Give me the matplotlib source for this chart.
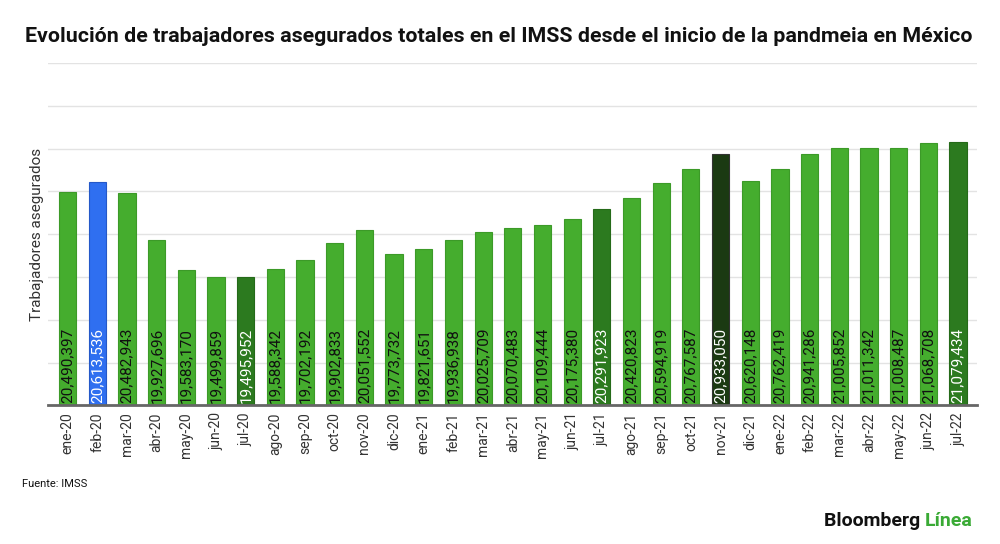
import matplotlib
matplotlib.use("Agg")
import matplotlib.pyplot as plt
from matplotlib.ticker import MultipleLocator

months = ["ene-20","feb-20","mar-20","abr-20","may-20","jun-20","jul-20","ago-20","sep-20","oct-20",
          "nov-20","dic-20","ene-21","feb-21","mar-21","abr-21","may-21","jun-21","jul-21","ago-21",
          "sep-21","oct-21","nov-21","dic-21","ene-22","feb-22","mar-22","abr-22","may-22","jun-22","jul-22"]
values = [20490397,20613536,20482943,19927696,19583170,19499859,19495952,19588342,19702192,19902833,
          20051552,19773732,19821651,19936938,20025709,20070483,20109444,20175380,20291923,20420823,
          20594919,20767587,20933050,20620148,20762419,20941286,21005852,21011342,21008487,21068708,21079434]

GREEN = "#45ad2e"
DARK = "#2c7a1f"
BLUE = "#2f6ff0"
BLACKG = "#1b3a12"
special = {"feb-20": BLUE, "jul-20": DARK, "jul-21": DARK, "nov-21": BLACKG, "jul-22": DARK}

colors = [special.get(m, GREEN) for m in months]
edges = []
for c in colors:
    if c == GREEN:
        edges.append("#3c9a28")
    elif c == BLUE:
        edges.append("#2458c8")
    elif c == BLACKG:
        edges.append("#333333")
    else:
        edges.append("#256a19")
txtcol = ["white" if c != GREEN else "#111111" for c in colors]

plt.rcParams['font.family'] = ['Roboto', 'DejaVu Sans']

fig = plt.figure(figsize=(10, 5.44), dpi=100)
ax = fig.add_axes([0.048, 0.255, 0.929, 0.629])

x = list(range(len(months)))
ax.bar(x, values, width=0.58, color=colors, edgecolor=edges, linewidth=0.8, zorder=3)

ymin, ymax = 18_000_000, 22_000_000
ax.set_ylim(ymin, ymax)
ax.set_xlim(-0.66, len(months) - 0.36)
ax.yaxis.set_major_locator(MultipleLocator(500_000))
ax.grid(axis="y", color="#e3e3e3", linewidth=1, zorder=0)
ax.set_yticklabels([])
ax.tick_params(axis="y", length=0)
ax.tick_params(axis="x", length=0, pad=5)
for s in ["top", "right", "left"]:
    ax.spines[s].set_visible(False)
ax.spines["bottom"].set_color("#666666")
ax.spines["bottom"].set_linewidth(2)
ax.spines["bottom"].set_zorder(4)

ax.set_xticks(x)
ax.set_xticklabels(months, rotation=90, fontsize=10, color="#333333")

for xi, v, tc in zip(x, values, txtcol):
    ax.text(xi, ymin + 25_000, f"{v:,}", rotation=90, ha="center", va="bottom",
            fontsize=11, color=tc, zorder=5)

ax.set_ylabel("Trabajadores asegurados", fontsize=11, color="#333333")
ax.yaxis.set_label_coords(-0.004, 0.5)

fig.text(0.499, 0.932, "Evolución de trabajadores asegurados totales en el IMSS desde el inicio de la pandmeia en México",
         ha="center", va="center", fontsize=15.4, fontweight="bold", color="#111111")
fig.text(0.022, 0.11, "Fuente: IMSS", ha="left", va="center", fontsize=8, color="#111111")
t1 = fig.text(0.824, 0.043, "Bloomberg ", ha="left", va="center", fontsize=14, fontweight="bold", color="#111111")
fig.canvas.draw()
bb = t1.get_window_extent()
fig.text(bb.x1 / fig.bbox.width, 0.043, "Línea", ha="left", va="center", fontsize=14,
         fontweight="bold", color="#3aaa35")

fig.savefig("out.png", dpi=100, facecolor="white")
